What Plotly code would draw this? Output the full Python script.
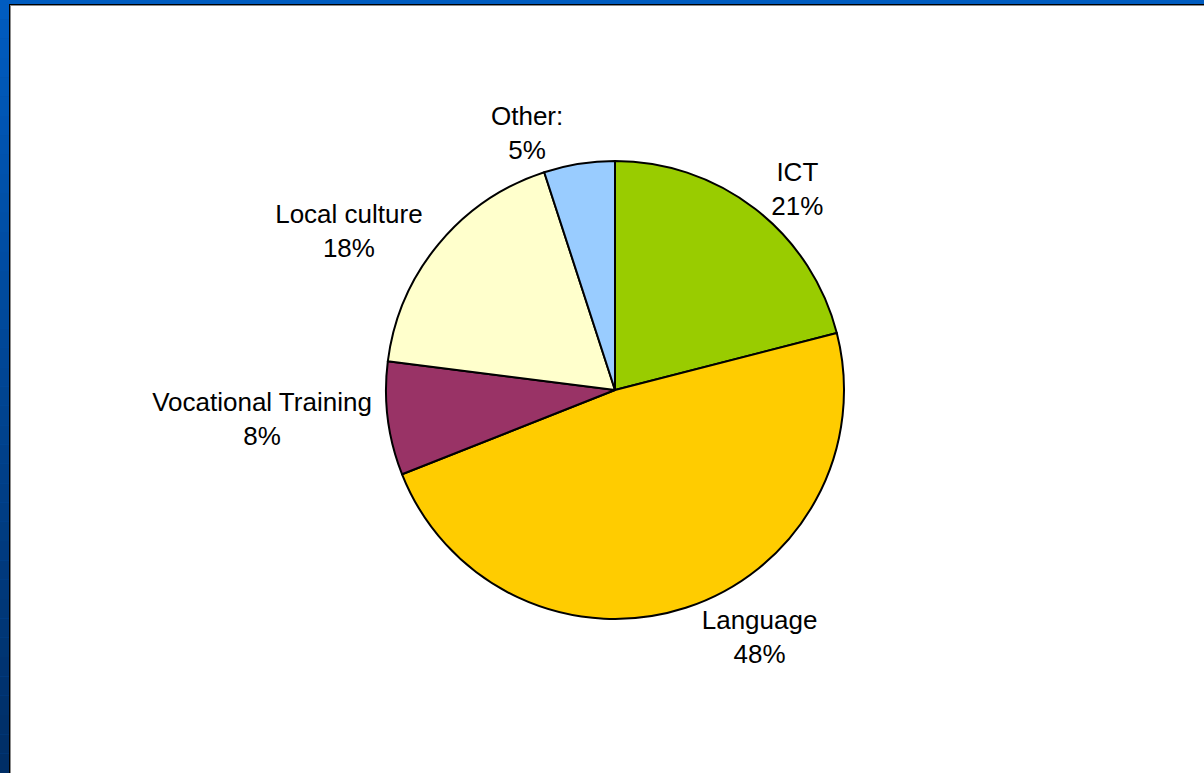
import numpy as np
import plotly.graph_objects as go

# data
labels = ["ICT", "Language", "Vocational Training", "Local culture", "Other:"]
values = [21, 48, 8, 18, 5]
colors = ["#99CC00", "#FFCC00", "#993366", "#FFFFCC", "#99CCFF"]

W, H = 1204, 773


def px(x):
    return x / W


def py(y):
    return 1 - y / H


fig = go.Figure()

fig.add_trace(
    go.Pie(
        labels=labels,
        values=values,
        sort=False,
        direction="clockwise",
        rotation=0,
        marker=dict(colors=colors, line=dict(color="#000000", width=2)),
        texttemplate="%{label}<br>%{percent:.0%}",
        textposition="outside",
        textfont=dict(family="Liberation Sans, Arial, sans-serif", size=26, color="#000000"),
        domain=dict(x=[px(386), px(844)], y=[py(619), py(161)]),
        showlegend=False,
        hoverinfo="label+percent",
    )
)

# slide frame: blue gradient band, black + grey rule, white page
shapes = []
top_c = np.array([0, 92, 192])
bot_c = np.array([0, 46, 102])
n = 40
for i in range(n):
    t = i / (n - 1)
    c = top_c * (1 - t) + bot_c * t
    shapes.append(dict(
        type="rect", xref="paper", yref="paper", layer="below",
        x0=0, x1=1, y0=1 - (i + 1) / n, y1=1 - i / n,
        fillcolor=f"rgb({int(c[0])},{int(c[1])},{int(c[2])})", line=dict(width=0),
    ))
for off, col in [(0, "#000000"), (1, "#8c8c8c"), (2, "#ffffff")]:
    shapes.append(dict(
        type="rect", xref="paper", yref="paper", layer="below",
        x0=px(9 + off), x1=1.01, y0=-0.01, y1=py(4 + off),
        fillcolor=col, line=dict(width=0),
    ))

fig.update_layout(
    width=W,
    height=H,
    margin=dict(l=0, r=0, t=0, b=0),
    paper_bgcolor="#0050a8",
    plot_bgcolor="#ffffff",
    shapes=shapes,
    showlegend=False,
)

fig.write_html(
    "out.html",
    config=dict(displayModeBar=False),
    post_script="document.body.style.margin='0';document.body.style.overflow='hidden';",
)
